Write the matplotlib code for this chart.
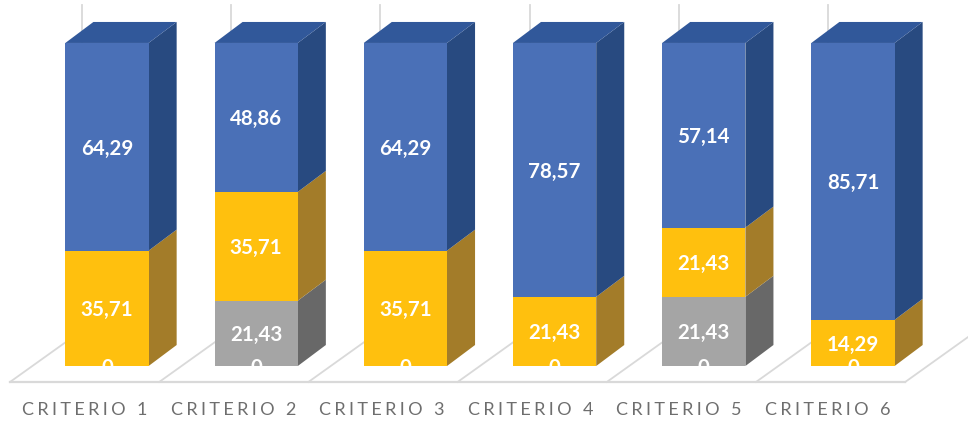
import numpy as np
import matplotlib
matplotlib.use('Agg')
from matplotlib import pyplot as plt
from matplotlib.patches import Polygon, Rectangle

plt.rcParams['font.family'] = ['Lato', 'DejaVu Sans']

categories = ['CRITERIO 1', 'CRITERIO 2', 'CRITERIO 3', 'CRITERIO 4', 'CRITERIO 5', 'CRITERIO 6']
base = [0, 0, 0, 0, 0, 0]
gray = [0, 21.43, 0, 0, 21.43, 0]
yellow = [35.71, 35.71, 35.71, 21.43, 21.43, 14.29]
blue = [64.29, 48.86, 64.29, 78.57, 57.14, 85.71]

# front, side, top colours of each stacked series
series = [
    (gray, '#A5A5A5', '#686868'),
    (yellow, '#FFC00E', '#A37C29'),
    (blue, '#4A70B7', '#284A80'),
]
top_color = '#31589A'

bar_w = 0.558
dx = 0.188
dy = 6.5
floor_left = -0.65
floor_front = -4.95
grid_color = '#D9D9D9'
label_size = 14.8

fig = plt.figure(figsize=(9.68, 4.23), dpi=100)
ax = fig.add_axes([0, 38 / 423, 1, 385 / 423])
ax.set_xlim(-0.717, 5.771)
ax.set_ylim(-5.88, 113.3)
for s in ax.spines.values():
    s.set_visible(False)
ax.set_yticks([])

# floor and back wall lines
n = len(categories)
floor_depth = 2.45 * dy
for i in range(n + 1):
    x0 = floor_left + i
    x1 = x0 + 0.482
    y1 = floor_front + floor_depth
    ax.plot([x0, x1], [floor_front, y1], color=grid_color, lw=1.3, zorder=1)
    ax.plot([x1, x1], [y1, 111.8], color=grid_color, lw=1.3, zorder=1)
ax.plot([floor_left, floor_left + n], [floor_front, floor_front], color=grid_color, lw=1.6, zorder=1)

# 100% stacked: heights are scaled by each bar's total
totals = np.array(gray) + np.array(yellow) + np.array(blue)
x = np.arange(n)
bottom = np.zeros(n)
for vals, front, side in series:
    h = np.array(vals) / totals * 100
    ax.bar(x, h, bar_w, bottom=bottom, color=front, zorder=3)
    for i in range(n):
        if h[i] == 0:
            continue
        r = x[i] + bar_w / 2
        ax.add_patch(Polygon([(r, bottom[i]), (r + dx, bottom[i] + dy),
                              (r + dx, bottom[i] + h[i] + dy), (r, bottom[i] + h[i])],
                             closed=True, facecolor=side, edgecolor='none', zorder=2.5))
        ax.text(x[i], bottom[i] + h[i] / 2, f'{vals[i]:.2f}'.replace('.', ','),
                color='white', fontsize=label_size, fontweight='bold',
                ha='center', va='center_baseline', zorder=5)
    bottom = bottom + h

# top face of each bar
for i in range(n):
    l = x[i] - bar_w / 2
    r = x[i] + bar_w / 2
    ax.add_patch(Polygon([(l, 100), (l + dx, 100 + dy), (r + dx, 100 + dy), (r, 100)],
                         closed=True, facecolor=top_color, edgecolor='none', zorder=2.5))

# the zero series sits on the base line, its label is cut by the bar edge
for i in range(n):
    t = ax.text(x[i], base[i], str(base[i]), color='white', fontsize=label_size, fontweight='bold',
                ha='center', va='center_baseline', zorder=5)
    t.set_clip_path(Rectangle((x[i] - bar_w / 2, 0), bar_w, 100, transform=ax.transData))

# category labels, spaced out with hair spaces
ax.set_xticks(np.linspace(-0.15, 4.83, n))
ax.set_xticklabels(['\u200a\u200a\u200a'.join(c) for c in categories], color='#6E6E6E', fontsize=13)
ax.tick_params(axis='x', length=0, pad=12.5)

fig.savefig('out.png', dpi=100)
